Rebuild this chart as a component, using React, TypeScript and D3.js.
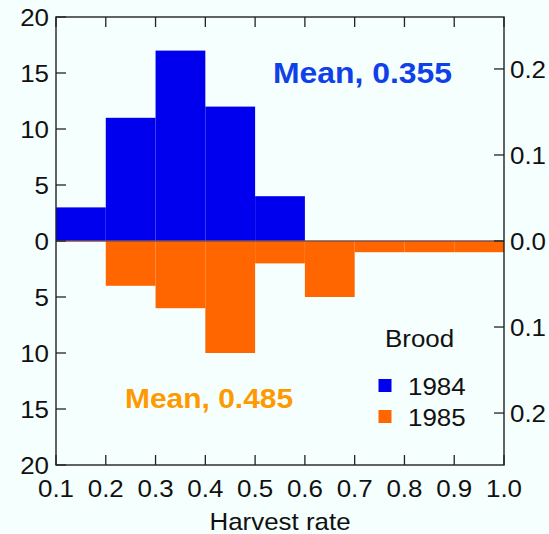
import React from "react";
import * as d3 from "d3";

const binStarts = [0.1, 0.2, 0.3, 0.4, 0.5, 0.6, 0.7, 0.8, 0.9];
const counts1984 = [3, 11, 17, 12, 4, 0, 0, 0, 0];
const counts1985 = [0, 4, 6, 10, 2, 5, 1, 1, 1];
const xTicks = [0.1, 0.2, 0.3, 0.4, 0.5, 0.6, 0.7, 0.8, 0.9, 1.0];
const leftTicks = [-20, -15, -10, -5, 0, 5, 10, 15, 20];
const rightTicks = [-0.2, -0.1, 0, 0.1, 0.2];
const seriesNames = ["1984", "1985"];
const means = [0.355, 0.485];

const W = 549, H = 534;
const FONT = "'Liberation Sans', Arial, Helvetica, sans-serif";
const BLUE = "#0000ee";
const ORANGE = "#ff6600";
const SX = 1.08;

function T({ x, y, anchor = "start", size = 24, fill = "#111", weight = "normal", sx = SX, children }: any) {
  return (
    <g transform={`translate(${x},${y}) scale(${sx},1)`}>
      <text x={0} y={0} textAnchor={anchor} fontSize={size} fill={fill} fontWeight={weight} fontFamily={FONT} dominantBaseline="alphabetic">
        {children}
      </text>
    </g>
  );
}

export default function App() {
  const x = d3.scaleLinear().domain([0.1, 1.0]).range([56, 504]);
  const y = d3.scaleLinear().domain([-20, 20]).range([465, 17]);
  const yr = d3.scaleLinear().domain([-0.2604, 0.2604]).range([465, 17]);
  const bw = 0.1;
  const axisColor = "#222";
  return (
    <svg width={W} height={H} style={{ position: "absolute", left: 0, top: 0, background: "#f5fffd" }}>
      <rect x={0} y={0} width={W} height={H} fill="#f5fffd" />
      {binStarts.map((b, i) =>
        counts1984[i] > 0 ? (
          <rect key={"a" + i} x={x(b)} width={x(b + bw) - x(b)} y={y(counts1984[i])} height={y(0) - y(counts1984[i])} fill={BLUE} />
        ) : null
      )}
      {binStarts.map((b, i) =>
        counts1985[i] > 0 ? (
          <rect key={"b" + i} x={x(b)} width={x(b + bw) - x(b)} y={y(0)} height={y(-counts1985[i]) - y(0)} fill={ORANGE} />
        ) : null
      )}
      <line x1={x(0.1)} x2={x(1.0)} y1={y(0)} y2={y(0)} stroke="#80504a" strokeWidth={1.4} />
      <rect x={x(0.1)} y={y(20)} width={x(1.0) - x(0.1)} height={y(-20) - y(20)} fill="none" stroke={axisColor} strokeWidth={1.4} />
      {leftTicks.map((t) => (
        <g key={"l" + t}>
          <line x1={x(0.1)} x2={x(0.1) + 10} y1={y(t)} y2={y(t)} stroke={axisColor} strokeWidth={1.3} />
          <T x={49} y={y(t) + 8.6} anchor="end">{Math.abs(t)}</T>
        </g>
      ))}
      {rightTicks.map((t) => (
        <g key={"r" + t}>
          <line x1={x(1.0)} x2={x(1.0) - 10} y1={yr(t)} y2={yr(t)} stroke={axisColor} strokeWidth={1.3} />
          <T x={510} y={yr(t) + 8.6}>{Math.abs(t).toFixed(1)}</T>
        </g>
      ))}
      {xTicks.map((t) => (
        <g key={"x" + t}>
          <line x1={x(t)} x2={x(t)} y1={y(-20)} y2={y(-20) - 10} stroke={axisColor} strokeWidth={1.3} />
          <line x1={x(t)} x2={x(t)} y1={y(20)} y2={y(20) + 10} stroke={axisColor} strokeWidth={1.3} />
          <T x={x(t)} y={497} anchor="middle">{t.toFixed(1)}</T>
        </g>
      ))}
      <T x={(x(0.1) + x(1.0)) / 2} y={530} anchor="middle" size={24}>Harvest rate</T>
      <T x={273} y={83} size={29} weight="bold" fill="#1040e8" sx={1.1}>{`Mean, ${means[0].toFixed(3)}`}</T>
      <T x={125} y={408} size={28} weight="bold" fill="#ff9900" sx={1.07}>{`Mean, ${means[1].toFixed(3)}`}</T>
      <T x={385} y={347}>Brood</T>
      <rect x={378.5} y={379} width={13} height={13} fill={BLUE} />
      <rect x={378.5} y={410} width={13} height={13} fill={ORANGE} />
      <T x={408} y={395}>{seriesNames[0]}</T>
      <T x={408} y={426}>{seriesNames[1]}</T>
    </svg>
  );
}
